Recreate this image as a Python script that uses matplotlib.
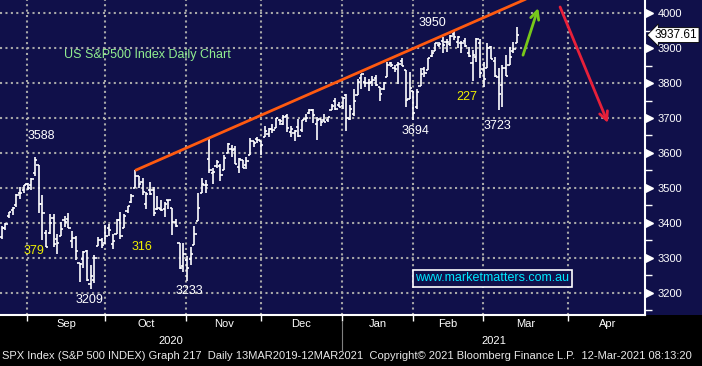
import numpy as np
import pandas as pd
import matplotlib
matplotlib.use('Agg')
import matplotlib.pyplot as plt
import matplotlib.transforms as mtransforms
from matplotlib.collections import LineCollection
from matplotlib.patches import Rectangle

# ---------------- data ----------------
start_date = '2020-08-20'
holidays = ['2020-09-07', '2020-11-26', '2020-12-25', '2021-01-01',
            '2021-01-18', '2021-02-15', '2021-04-02', '2021-05-31']

opens = [3360.5, 3386.0, 3418.1, 3435.9, 3450.0, 3485.1, 3494.7, 3509.7,
         3507.4, 3543.8, 3564.7, 3453.6, 3371.9, 3369.8, 3412.6, 3352.7, 3363.6, 3407.7,
         3411.2, 3346.9, 3357.4, 3285.6, 3295.8, 3320.1, 3226.1, 3236.7, 3333.9, 3350.9, 3341.2,
         3385.9, 3338.9, 3367.3, 3408.7, 3384.6, 3434.3, 3459.7, 3500.0, 3534.0, 3515.5, 3453.7,
         3493.5, 3493.7, 3439.4, 3439.9, 3438.5, 3464.9, 3441.4, 3403.2, 3342.5, 3277.2, 3293.6,
         3296.2, 3336.3, 3406.5, 3485.7, 3508.3, 3583.0, 3543.3, 3563.2, 3562.7, 3552.6, 3600.2,
         3610.3, 3612.1, 3559.4, 3579.3, 3566.8, 3594.5, 3635.5, 3638.6, 3634.2,
         3645.9, 3653.8, 3668.3, 3670.9, 3694.7, 3683.1, 3706.0, 3659.1, 3656.1, 3675.3, 3666.4,
         3696.3, 3713.7, 3722.4, 3684.3, 3698.1, 3693.4, 3694.0, 3723.0, 3750.0, 3736.2, 3733.3,
         3764.6, 3698.0, 3712.2, 3764.7, 3815.1, 3803.1, 3801.6, 3802.2, 3815.0, 3788.7, 3781.9,
         3816.2, 3857.5, 3844.2, 3851.7, 3863.0, 3836.8, 3755.8, 3778.1,
         3731.2, 3791.8, 3840.3, 3836.7, 3878.3, 3892.6, 3910.5, 3920.8, 3916.4, 3911.7, 3939.6,
         3918.5, 3915.9, 3921.2, 3885.6, 3857.1, 3873.7, 3915.8, 3839.7,
         3842.5, 3903.6, 3864.0, 3818.5, 3793.6, 3844.4, 3851.7, 3892.0, 3915.5]
highs = [3390.8, 3400.0, 3432.1, 3444.2, 3481.1, 3501.4, 3509.2, 3514.8,
         3528.0, 3588.1, 3564.9, 3479.2, 3380.0, 3424.8, 3425.6, 3369.0, 3402.9, 3419.5,
         3428.9, 3375.2, 3362.3, 3285.6, 3320.3, 3323.4, 3278.7, 3306.9, 3360.7, 3357.9, 3393.6,
         3397.2, 3369.1, 3409.6, 3431.6, 3426.3, 3447.3, 3482.3, 3549.9, 3534.0, 3527.9, 3489.1,
         3515.8, 3502.4, 3476.9, 3464.9, 3460.5, 3466.5, 3441.4, 3409.5, 3342.5, 3341.1, 3304.9,
         3330.1, 3389.5, 3486.3, 3529.1, 3521.6, 3646.0, 3557.2, 3581.2, 3569.0, 3593.7, 3628.5,
         3623.1, 3619.1, 3585.2, 3581.2, 3589.8, 3642.3, 3635.5, 3644.3, 3634.2,
         3678.5, 3671.0, 3682.7, 3699.2, 3697.4, 3708.5, 3712.4, 3678.5, 3665.9, 3697.6, 3695.3,
         3711.3, 3725.1, 3726.7, 3702.9, 3698.3, 3711.2, 3703.8, 3740.5, 3756.1, 3744.6, 3760.2,
         3770.0, 3737.8, 3783.0, 3811.6, 3826.7, 3817.9, 3810.8, 3821.0, 3823.6, 3788.7, 3804.5,
         3859.8, 3861.5, 3852.3, 3859.2, 3870.9, 3836.8, 3830.5, 3778.1,
         3784.3, 3843.1, 3847.5, 3872.4, 3894.6, 3915.8, 3918.4, 3931.5, 3926.0, 3937.2, 3950.4,
         3933.6, 3922.0, 3930.4, 3902.9, 3896.0, 3928.7, 3925.0, 3861.1,
         3914.5, 3906.4, 3874.5, 3843.7, 3851.7, 3881.1, 3903.8, 3917.4, 3960.3]
lows = [3354.7, 3379.3, 3413.1, 3421.0, 3444.2, 3468.3, 3484.3, 3493.3,
        3494.6, 3535.2, 3427.4, 3349.6, 3329.3, 3366.8, 3329.3, 3310.5, 3363.6, 3389.2,
        3384.5, 3328.8, 3292.4, 3229.1, 3271.0, 3232.6, 3209.5, 3228.4, 3332.9, 3327.5, 3340.5,
        3361.4, 3324.0, 3367.3, 3354.5, 3384.6, 3428.2, 3458.1, 3499.6, 3500.9, 3480.6, 3440.9,
        3480.5, 3419.9, 3435.7, 3433.1, 3415.3, 3440.5, 3364.9, 3388.7, 3268.9, 3259.8, 3233.9,
        3279.7, 3336.3, 3405.2, 3485.7, 3484.3, 3543.8, 3511.9, 3557.0, 3518.6, 3552.6, 3600.2,
        3588.7, 3567.3, 3543.8, 3556.9, 3552.8, 3594.5, 3617.8, 3629.3, 3594.4,
        3645.9, 3644.8, 3657.2, 3670.9, 3678.9, 3678.8, 3660.5, 3645.2, 3633.4, 3645.8, 3659.6,
        3688.6, 3710.9, 3685.8, 3636.5, 3676.2, 3689.3, 3689.3, 3723.0, 3723.3, 3730.2, 3726.9,
        3662.7, 3695.1, 3705.3, 3764.7, 3783.6, 3789.0, 3776.5, 3791.5, 3792.9, 3749.6, 3780.4,
        3816.2, 3845.1, 3830.4, 3797.2, 3847.8, 3732.5, 3755.8, 3694.1,
        3725.6, 3791.8, 3816.7, 3836.7, 3874.9, 3892.6, 3902.6, 3884.9, 3890.4, 3905.8, 3923.9,
        3900.4, 3885.0, 3903.1, 3874.7, 3805.6, 3859.6, 3814.0, 3789.5,
        3842.5, 3868.6, 3818.9, 3723.3, 3730.2, 3819.3, 3851.7, 3885.7, 3915.5]
closes = [3385.5, 3397.2, 3431.3, 3443.6, 3478.7, 3484.6, 3508.0, 3500.3,
          3526.7, 3580.8, 3455.1, 3427.0, 3331.8, 3399.0, 3339.2, 3341.0, 3383.5, 3401.2,
          3385.5, 3357.0, 3319.5, 3281.1, 3315.6, 3236.9, 3246.6, 3298.5, 3351.6, 3335.5, 3363.0,
          3380.8, 3348.4, 3408.6, 3361.0, 3419.4, 3446.8, 3477.1, 3534.2, 3511.9, 3488.7, 3483.3,
          3483.8, 3426.9, 3443.1, 3435.6, 3453.5, 3465.4, 3401.0, 3390.7, 3271.0, 3310.1, 3270.0,
          3310.2, 3369.2, 3443.4, 3510.5, 3509.4, 3550.5, 3545.5, 3572.7, 3537.0, 3585.2, 3626.9,
          3609.5, 3567.8, 3581.9, 3557.5, 3577.6, 3635.4, 3629.7, 3638.4, 3621.6,
          3662.5, 3669.0, 3666.7, 3699.1, 3692.0, 3702.3, 3672.8, 3668.1, 3663.5, 3647.5, 3694.6,
          3701.2, 3722.5, 3709.4, 3694.9, 3687.3, 3690.0, 3703.1, 3735.4, 3727.0, 3732.0, 3756.1,
          3700.7, 3726.9, 3748.1, 3803.8, 3824.7, 3799.6, 3801.2, 3809.8, 3795.5, 3768.3, 3798.9,
          3851.9, 3853.1, 3841.5, 3855.4, 3849.6, 3750.8, 3787.4, 3714.2,
          3773.9, 3826.3, 3830.2, 3871.7, 3886.8, 3915.6, 3911.2, 3909.9, 3916.4, 3934.8, 3932.6,
          3931.3, 3914.0, 3906.7, 3876.5, 3881.4, 3925.4, 3829.3, 3811.2,
          3901.8, 3870.3, 3819.7, 3768.5, 3841.9, 3821.4, 3875.4, 3898.8, 3937.61]

month_starts = ['2020-09', '2020-10', '2020-11', '2020-12', '2021-01',
                '2021-02', '2021-03', '2021-04', '2021-05']
month_labels = ['Sep', 'Oct', 'Nov', 'Dec', 'Jan', 'Feb', 'Mar', 'Apr']
year_labels = ['2020', '2021']
y_ticks = [3200, 3300, 3400, 3500, 3600, 3700, 3800, 3900, 4000]
trend_dates = ['2020-10-12', '2021-02-16']

title = 'US S&P500 Index Daily Chart'
website = 'www.marketmatters.com.au'
footer = ('SPX Index (S&P 500 INDEX) Graph 217  Daily 13MAR2019-12MAR2021  '
          'Copyright\u00a9 2021 Bloomberg Finance L.P.  12-Mar-2021 08:13:20')

# ---------------- styles ----------------
NAVY = '#10104a'
GRID = '#a8a8a8'
FONT = ['Liberation Sans', 'DejaVu Sans']
plt.rcParams['font.family'] = FONT

# trading-day calendar
cal = pd.bdate_range(start_date, '2021-05-31')
cal = cal[~cal.isin(pd.to_datetime(holidays))]
origin = cal.get_loc(pd.Timestamp('2020-09-01'))
pos = np.arange(len(cal)) - origin
n = len(closes)
xb = pos[:n]


def first_idx(month):
    return pos[np.argmax(cal.strftime('%Y-%m') == month)]


grid_off = -1.15
bounds = [first_idx(m) + grid_off for m in month_starts]

x_left, x_right = -8.44, 165.5
y_bot, y_top = 3136, 4038

fig = plt.figure(figsize=(7.02, 3.66), dpi=100, facecolor='black')
fig.patches.append(Rectangle((0, 51 / 366), 1, 315 / 366, transform=fig.transFigure,
                             facecolor=NAVY, edgecolor='none', zorder=-5))
ax = fig.add_axes([0, 51 / 366, 645 / 702, 315 / 366])
ax.set_zorder(2)
ax.set_facecolor(NAVY)
ax.set_xlim(x_left, x_right)
ax.set_ylim(y_bot, y_top)

# grid
dot = (0, (1, 1.6))
for yv in y_ticks:
    ax.axhline(yv, color=GRID, lw=1.5, ls=dot, zorder=1)
for b in bounds[:-1]:
    ax.axvline(b, color=GRID, lw=1.5, ls=dot, zorder=1)

# OHLC bars
w = 0.6
segs = []
for x, o, h, l, c in zip(xb, opens, highs, lows, closes):
    segs.append([(x, l), (x, h)])
    segs.append([(x - w, o), (x, o)])
    segs.append([(x, c), (x + w, c)])
ax.add_collection(LineCollection(segs, colors='white', linewidths=1.2,
                                 capstyle='butt', zorder=3))

# trend line through two highs
ti = [xb[cal[:n].get_loc(pd.Timestamp(d))] for d in trend_dates]
th = [highs[cal[:n].get_loc(pd.Timestamp(d))] for d in trend_dates]
slope = (th[1] - th[0]) / (ti[1] - ti[0])
tx = np.array([ti[0], 140])
ax.plot(tx, th[0] + slope * (tx - ti[0]), color='#ff5a10', lw=2.0, zorder=4,
        solid_capstyle='butt')

# arrows
ax.annotate('', xy=(136.7, 4015), xytext=(132.6, 3880),
            arrowprops=dict(arrowstyle='->,head_length=0.6,head_width=0.3',
                            color='#78c81a', lw=2.0, shrinkA=0, shrinkB=0), zorder=5)
ax.annotate('', xy=(155.5, 3686), xytext=(142.6, 4018),
            arrowprops=dict(arrowstyle='->,head_length=0.6,head_width=0.3',
                            color='#e8203a', lw=2.0, shrinkA=0, shrinkB=0), zorder=5)

# price labels
lab_fs = 9
annots = [('3588', 2.6, 3649, 'white'), ('379', 0.7, 3320, '#f0f000'),
          ('3209', 15.8, 3179, 'white'), ('316', 29.9, 3331, '#f0f000'),
          ('3233', 42.5, 3205, 'white'), ('3694', 103.5, 3663, 'white'),
          ('3950', 108.3, 3972, 'white'), ('227', 117.5, 3760, '#f0f000'),
          ('3723', 125.6, 3677, 'white')]
for t, xx, yy, col in annots:
    ax.text(xx, yy, t, color=col, fontsize=lab_fs, ha='center', va='center', zorder=6)

ax.text(64 / 645, 1 - 55 / 315, title, transform=ax.transAxes, color='#90ee90',
        fontsize=9, ha='left', va='center', zorder=6)
ax.text(492 / 645, 1 - 278 / 315, website, transform=ax.transAxes, color='#00e8ff',
        fontsize=9, ha='center', va='center', zorder=6,
        bbox=dict(boxstyle='square,pad=0.2', fc=NAVY, ec='white', lw=1.2))

# spines
for s in ['left', 'top']:
    ax.spines[s].set_visible(False)
for s in ['right', 'bottom']:
    ax.spines[s].set_color('white')
    ax.spines[s].set_linewidth(1.5)

# y ticks on right
ax.yaxis.tick_right()
ax.set_yticks(y_ticks)
ax.set_yticklabels([str(v) for v in y_ticks])
ax.set_yticks(np.arange(3150, 4040, 100), minor=True)
ax.tick_params(axis='y', which='major', length=0, pad=9, labelcolor='white', labelsize=8)
ax.tick_params(axis='y', which='minor', length=5, width=1, color='white', direction='out')
ytr = ax.get_yaxis_transform() + mtransforms.ScaledTranslation(4 / 100, 0, fig.dpi_scale_trans)
ax.plot([1.0] * len(y_ticks), y_ticks, ls='none', marker='>', ms=6, color='white',
        transform=ytr, clip_on=False, zorder=6)

# x ticks
ax.set_xticks(bounds[:-1])
ax.set_xticklabels([])
ax.tick_params(axis='x', which='major', length=4, width=1, color='white', direction='out')

xtr = ax.get_xaxis_transform()
for i, lab in enumerate(month_labels):
    ax.text((bounds[i] + bounds[i + 1]) / 2, -9 / 315, lab, transform=xtr, color='white',
            fontsize=8, ha='center', va='center', clip_on=False)

jan_b = bounds[4]
ax.text((x_left + jan_b) / 2, -26 / 315, year_labels[0], transform=xtr, color='white',
        fontsize=8, ha='center', va='center', clip_on=False)
ax.text((jan_b + x_right) / 2, -26 / 315, year_labels[1], transform=xtr, color='white',
        fontsize=8, ha='center', va='center', clip_on=False)
ax.plot([jan_b, jan_b], [-7 / 315, -35 / 315], transform=xtr, color='#808080', lw=0.8,
        clip_on=False)

# last price tag
tag_tr = ax.get_yaxis_transform() + mtransforms.ScaledTranslation(10 / 100, 0, fig.dpi_scale_trans)
ax.text(1.0, closes[-1], f'{closes[-1]:.2f}', transform=tag_tr, color='black', fontsize=8.5,
        ha='left', va='center', clip_on=False, zorder=7,
        bbox=dict(boxstyle='larrow,pad=0.12', fc='white', ec='black', lw=0.6))

fig.text(2 / 702, 10 / 366, footer, color='#e8e8e8', fontsize=8.0, ha='left', va='center')

fig.savefig('out.png', dpi=100, facecolor='black')
